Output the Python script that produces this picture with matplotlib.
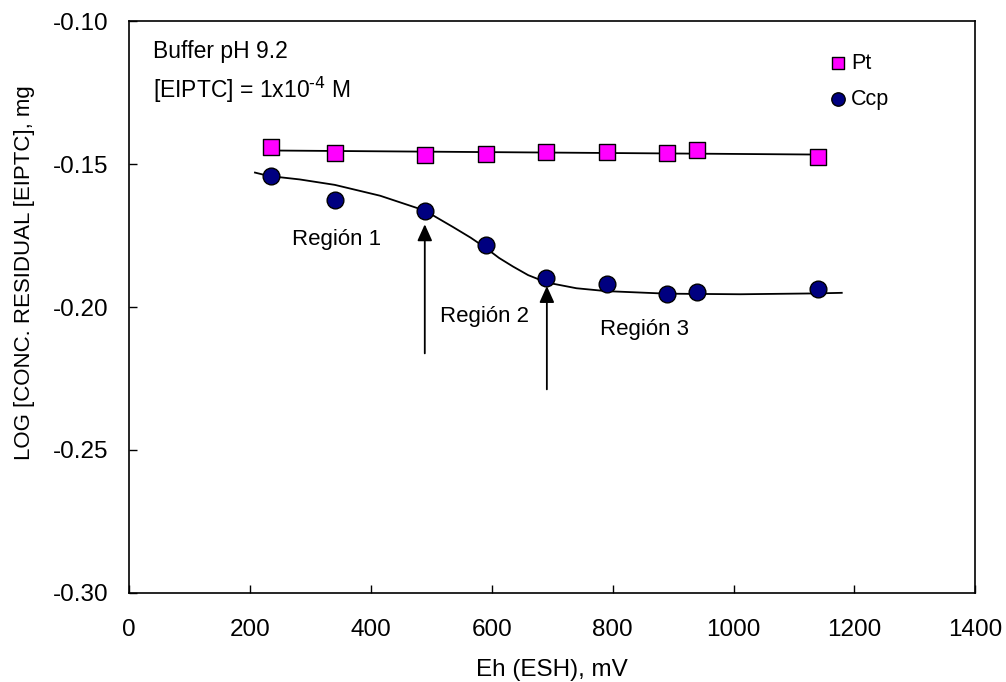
import numpy as np
import matplotlib
matplotlib.use("Agg")
import matplotlib.pyplot as plt

plt.rcParams['font.family'] = ['Liberation Sans', 'DejaVu Sans']

# Data
eh_pt = [235, 340, 490, 590, 690, 790, 890, 940, 1140]
log_pt = [-0.1438, -0.1461, -0.1467, -0.1465, -0.1456, -0.1457, -0.1461, -0.1450, -0.1473]

eh_ccp = [235, 340, 490, 590, 690, 790, 890, 940, 1140]
log_ccp = [-0.1540, -0.1625, -0.1662, -0.1783, -0.1897, -0.1920, -0.1954, -0.1948, -0.1937]

# Smooth trend curve for Ccp
curve_x = [208, 231, 282, 340, 415, 489, 536, 565, 590, 612, 635, 660, 691, 740, 789, 890, 1011, 1138, 1179]
curve_y = [-0.1529, -0.1541, -0.1553, -0.1572, -0.1610, -0.1662, -0.1720, -0.1757, -0.1793,
           -0.1828, -0.1858, -0.1888, -0.1914, -0.1934, -0.1944, -0.1953, -0.1955, -0.1952, -0.1950]

x_ticks = [0, 200, 400, 600, 800, 1000, 1200, 1400]
y_ticks = [-0.30, -0.25, -0.20, -0.15, -0.10]

fig = plt.figure(figsize=(10.06, 6.82), dpi=100)
ax = fig.add_axes([0.1285, 0.1309, 0.841, 0.8376])

# Pt linear trend
coef = np.polyfit(eh_pt, log_pt, 1)
xl = np.array([min(eh_pt), max(eh_pt)])
ax.plot(xl, np.polyval(coef, xl), color='black', lw=1.3, zorder=2)
ax.plot(curve_x, curve_y, color='black', lw=1.3, zorder=2)

ax.scatter(eh_pt, log_pt, marker='s', s=125, facecolor='#FF00FF', edgecolor='black',
           linewidth=1.0, zorder=3, label='Pt')
ax.scatter(eh_ccp, log_ccp, marker='o', s=145, facecolor='#000080', edgecolor='black',
           linewidth=1.0, zorder=3, label='Ccp')

ax.set_xlim(0, 1400)
ax.set_ylim(-0.30, -0.10)
ax.set_xticks(x_ticks)
ax.set_yticks(y_ticks)
ax.set_xticklabels([str(v) for v in x_ticks])
ax.set_yticklabels([f"{v:.2f}" for v in y_ticks])
ax.tick_params(direction='in', length=6, width=1, labelsize=17.5)
ax.tick_params(axis='x', pad=19)
ax.tick_params(axis='y', pad=15)
for s in ax.spines.values():
    s.set_linewidth(1.2)

ax.set_xlabel('Eh (ESH), mV', fontsize=17.5)
ax.xaxis.set_label_coords(0.5, -0.1156)
ax.set_ylabel('LOG [CONC. RESIDUAL [EIPTC], mg', fontsize=16)
ax.yaxis.set_label_coords(-0.112, 0.56)

# Annotations
ax.text(39, -0.1106, 'Buffer pH 9.2', fontsize=16.5, va='center', ha='left')
ax.text(39, -0.1240, r'[EIPTC] = 1x10$^{\text{-4}}$ M', fontsize=16.5, va='center', ha='left')

ax.text(270, -0.1765, 'Región 1', fontsize=16, va='center', ha='left')
ax.text(514, -0.2034, 'Región 2', fontsize=16, va='center', ha='left')
ax.text(779, -0.2080, 'Región 3', fontsize=16, va='center', ha='left')

arrow_props = dict(arrowstyle='-|>,head_length=1.0,head_width=0.45', color='black', lw=1.3,
                   shrinkA=0, shrinkB=0)
ax.annotate('', xy=(489, -0.1710), xytext=(489, -0.2162), arrowprops=arrow_props)
ax.annotate('', xy=(691, -0.1926), xytext=(691, -0.2288), arrowprops=arrow_props)

leg = ax.legend(loc='upper left', bbox_to_anchor=(0.807, 0.96), frameon=False, fontsize=15.5,
                handletextpad=-0.2, labelspacing=0.7, markerscale=0.8, borderaxespad=0,
                handlelength=1.6)

fig.savefig('out.png', dpi=100)
